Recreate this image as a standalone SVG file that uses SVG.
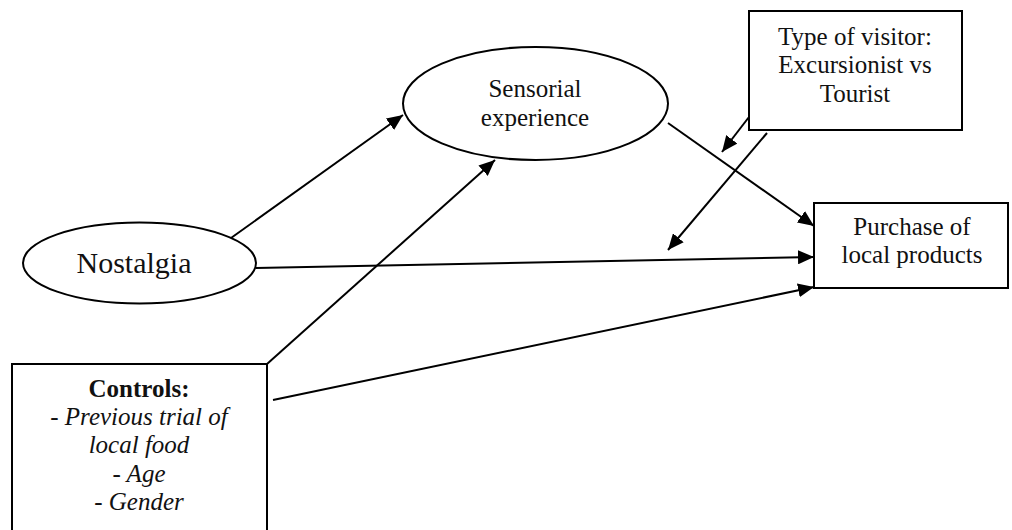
<svg xmlns="http://www.w3.org/2000/svg" width="1012" height="530" viewBox="0 0 1012 530">
<style>
.shape{fill:#fff;stroke:#000;stroke-width:2}
.t{fill:#111;text-anchor:middle}
.c{stroke:#000;stroke-width:2;fill:none;marker-end:url(#ah)}
</style>
<defs>
<marker id="ah" markerUnits="userSpaceOnUse" markerWidth="18" markerHeight="14" refX="16" refY="7" orient="auto">
<path d="M0,0 L16,7 L0,14 Z" fill="#000"/>
</marker>
</defs>
<rect width="1012" height="530" fill="#fff"/>
<g id="connectors">
<line class="c" x1="231" y1="238" x2="403" y2="115"/>
<line class="c" x1="267" y1="364" x2="495" y2="160"/>
<line class="c" x1="668" y1="123" x2="814" y2="226"/>
<line class="c" x1="256" y1="268" x2="814" y2="257"/>
<line class="c" x1="273" y1="400" x2="814" y2="287"/>
<line class="c" x1="749" y1="117" x2="722" y2="152"/>
<line class="c" x1="767" y1="133" x2="668" y2="250"/>
</g>
<g font-family="'Liberation Serif', 'Times New Roman', Times, serif">
<g id="sensorial">
<ellipse class="shape" cx="535.5" cy="103.5" rx="132.5" ry="56.5"/>
<text class="t" x="535" y="97" font-size="25">Sensorial</text>
<text class="t" x="535" y="126" font-size="25">experience</text>
</g>
<g id="type-of-visitor">
<rect class="shape" x="749" y="11" width="213" height="119"/>
<text class="t" x="855" y="45" font-size="25">Type of visitor:</text>
<text class="t" x="855" y="73" font-size="25">Excursionist vs</text>
<text class="t" x="855" y="102" font-size="25">Tourist</text>
</g>
<g id="nostalgia">
<ellipse class="shape" cx="139.5" cy="263" rx="116.5" ry="40.5"/>
<text class="t" x="134" y="273" font-size="30">Nostalgia</text>
</g>
<g id="purchase">
<rect class="shape" x="814" y="203" width="194" height="85"/>
<text class="t" x="912" y="235" font-size="25">Purchase of</text>
<text class="t" x="912" y="263" font-size="25">local products</text>
</g>
<g id="controls">
<rect class="shape" x="12" y="364" width="255" height="180"/>
<text class="t" x="139" y="397" font-size="25" font-weight="bold">Controls:</text>
<text class="t" x="139" y="425" font-size="25" font-style="italic">- Previous trial of</text>
<text class="t" x="139" y="453" font-size="25" font-style="italic">local food</text>
<text class="t" x="139" y="482" font-size="25" font-style="italic">- Age</text>
<text class="t" x="139" y="510" font-size="25" font-style="italic">- Gender</text>
</g>
</g>
</svg>
